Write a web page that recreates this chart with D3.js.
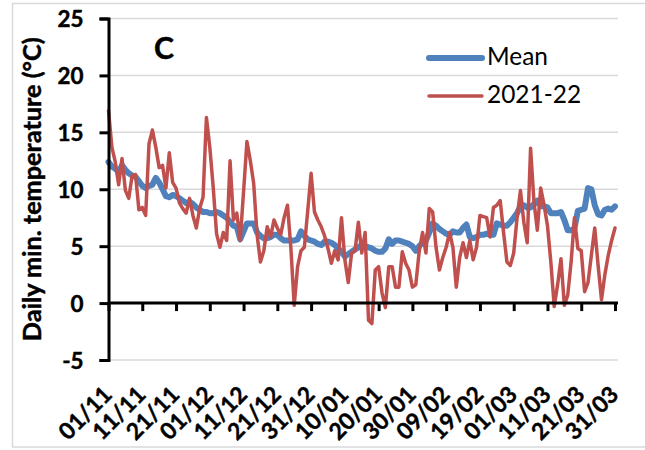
<!DOCTYPE html>
<html>
<head>
<meta charset="utf-8">
<script src="https://cdn.jsdelivr.net/npm/d3@7"></script>
<style>
  html, body { margin: 0; padding: 0; background: #fff; }
  svg { display: block; }
  text { font-family: Lato, "Liberation Sans", sans-serif; }
  .bold { font-weight: bold; stroke: #000; stroke-width: 0.45px; }
</style>
</head>
<body>
<svg id="chart" width="645" height="450"></svg>
<script>
// Day-of-season tick labels (every 10 days from 1 November)
const tickDays = [0, 10, 20, 30, 40, 50, 60, 70, 80, 90, 100, 110, 120, 130, 140, 150];
const tickLabels = ["01/11", "11/11", "21/11", "01/12", "11/12", "21/12", "31/12", "10/01",
                    "20/01", "30/01", "09/02", "19/02", "01/03", "11/03", "21/03", "31/03"];
const yTicks = [-5, 0, 5, 10, 15, 20, 25];
const seriesNames = ["Mean", "2021-22"];

// Long-term mean daily minimum temperature, 1 Nov – 31 Mar (°C)
const meanTemp = [
  12.4, 12.0, 11.8, 11.5, 12.1, 11.7, 11.4, 11.2, 11.1, 10.7,
  10.3, 10.1, 10.3, 10.4, 11.0, 10.6, 10.0, 9.4, 9.3, 9.5,
  9.4, 9.2, 9.0, 8.8, 8.9, 8.7, 8.4, 8.2, 8.0, 8.0,
  7.9, 7.9, 8.0, 7.9, 7.7, 7.5, 7.1, 6.8, 6.7, 5.6,
  6.3, 7.0, 7.0, 7.0, 6.2, 5.9, 5.7, 5.7, 5.8, 6.0,
  6.0, 5.7, 5.5, 5.5, 5.5, 5.5, 5.6, 6.3, 5.9, 5.6,
  5.5, 5.4, 5.2, 5.1, 5.4, 5.4, 5.3, 5.1, 4.8, 4.5,
  4.1, 4.3, 4.5, 4.7, 4.9, 5.1, 5.0, 4.9, 4.8, 4.6,
  4.5, 4.5, 4.8, 5.6, 5.2, 5.5, 5.5, 5.4, 5.3, 5.2,
  5.0, 4.6, 5.0, 5.3, 5.5, 6.2, 7.0, 6.8, 6.5, 6.3,
  6.1, 6.0, 6.3, 6.2, 6.2, 6.6, 6.9, 5.8, 5.7, 5.8,
  6.0, 6.0, 6.1, 6.0, 6.0, 7.0, 6.9, 6.8, 6.8, 7.1,
  7.5, 7.9, 8.5, 8.6, 8.4, 8.4, 8.7, 9.0, 8.5, 8.5,
  8.4, 7.9, 7.9, 7.9, 8.0, 7.3, 6.4, 6.4, 6.6, 8.1,
  8.2, 8.3, 10.1, 10.0, 8.6, 7.8, 7.7, 8.2, 8.3, 8.2,
  8.5
];

// Daily minimum temperature, season 2021-22 (°C)
const temp2122 = [
  16.9, 13.7, 12.4, 10.4, 12.7, 9.9, 9.2, 11.2, 11.3, 8.2,
  8.4, 7.7, 14.0, 15.2, 13.7, 11.9, 12.1, 10.1, 13.2, 10.6,
  10.1, 8.8, 8.3, 7.9, 9.2, 7.7, 6.6, 8.3, 9.3, 16.3,
  13.7, 10.2, 6.1, 4.9, 6.2, 5.5, 12.5, 7.3, 7.9, 5.5,
  9.8, 14.2, 12.5, 10.5, 6.0, 3.6, 4.6, 6.7, 5.8, 7.3,
  6.6, 6.0, 7.5, 8.6, 4.9, -0.2, 3.2, 4.6, 4.9, 8.1,
  11.4, 8.0, 7.3, 6.7, 5.9, 4.8, 3.5, 4.6, 3.8, 7.5,
  3.8, 1.8, 4.4, 4.6, 7.1, 4.4, 6.2, -1.5, -1.8, 2.9,
  3.2, 0.9, -0.4, 3.2, 3.2, 1.4, 1.4, 4.5, 3.5, 2.9,
  1.4, 1.6, 4.5, 6.2, 4.4, 8.3, 8.0, 4.9, 2.9, 4.0,
  4.9, 6.2, 4.9, 1.4, 4.0, 5.3, 4.0, 5.5, 3.8, 4.9,
  7.7, 7.6, 7.5, 5.8, 8.4, 8.6, 9.0, 6.2, 3.6, 3.3,
  4.4, 7.5, 9.9, 7.1, 5.3, 13.6, 8.9, 6.4, 10.1, 8.6,
  6.8, 3.6, -0.3, 1.6, 3.9, -0.2, 0.7, 3.6, 7.5, 4.8,
  4.6, 1.0, 1.8, 4.2, 6.6, 3.3, 0.3, 2.5, 4.2, 5.5,
  6.6
];

const colors = { mean: "#4F81BD", season: "#C0504D" };

const svg = d3.select("#chart");

// Font size that makes a sample string span the wanted width
function fitSize(sample, weight, target) {
  const t = svg.append("text")
    .style("font-size", "100px")
    .style("font-weight", weight)
    .text(sample);
  const w = t.node().getComputedTextLength();
  t.remove();
  return 100 * target / w;
}

// Chart frame
svg.append("rect")
  .attr("x", 12.5).attr("y", 3.5)
  .attr("width", 640).attr("height", 443.5)
  .attr("fill", "#fff")
  .attr("stroke", "#D9D9D9").attr("stroke-width", 1.5);

const plotLeft = 108.5, plotRight = 618, plotTop = 18.5, plotBottom = 360;
const x = d3.scaleLinear().domain([0, 150]).range([plotLeft, 615]);
const y = d3.scaleLinear().domain([-5, 25]).range([plotBottom, plotTop]);

// Horizontal gridlines
svg.append("g")
  .selectAll("line")
  .data(yTicks.filter(v => v !== 0))
  .join("line")
  .attr("x1", plotLeft).attr("x2", plotRight)
  .attr("y1", d => y(d)).attr("y2", d => y(d))
  .attr("stroke", "#D9D9D9").attr("stroke-width", 1.5);

// Series lines
const line = d3.line()
  .x((d, i) => x(i))
  .y(d => y(d));

svg.append("path")
  .datum(meanTemp)
  .attr("d", line)
  .attr("fill", "none")
  .attr("stroke", colors.mean)
  .attr("stroke-width", 6)
  .attr("stroke-linejoin", "round")
  .attr("stroke-linecap", "round");

svg.append("path")
  .datum(temp2122)
  .attr("d", line)
  .attr("fill", "none")
  .attr("stroke", colors.season)
  .attr("stroke-width", 3.5)
  .attr("stroke-linejoin", "round")
  .attr("stroke-linecap", "round");

// Y axis (plain hyphen for negative values)
const yTickSize = fitSize("25", "bold", 26);
const yAxis = svg.append("g")
  .attr("transform", `translate(${plotLeft},0)`)
  .call(d3.axisLeft(y).tickValues(yTicks).tickSize(9).tickPadding(16).tickFormat(d => String(d)));
yAxis.select(".domain").attr("stroke", "#000").attr("stroke-width", 3);
yAxis.selectAll(".tick line").attr("stroke", "#000").attr("stroke-width", 3);
yAxis.selectAll(".tick text")
  .attr("class", "bold")
  .attr("fill", "#000")
  .attr("dy", "0.36em")
  .style("font-size", yTickSize + "px");

// X axis drawn along zero
const xAxis = svg.append("g")
  .attr("transform", `translate(0,${y(0)})`)
  .call(d3.axisBottom(x).tickValues(tickDays).tickSize(8).tickSizeOuter(0).tickFormat(""));
xAxis.select(".domain")
  .attr("d", `M${plotLeft},0H${plotRight}`)
  .attr("stroke", "#000").attr("stroke-width", 3);
xAxis.selectAll(".tick line").attr("stroke", "#000").attr("stroke-width", 3);

// Date labels below the plot, rotated
const xLabelSize = fitSize("01/11", "bold", 64);
svg.append("g")
  .selectAll("text")
  .data(tickDays)
  .join("text")
  .attr("class", "bold")
  .attr("transform", d => `translate(${x(d) + 5},${plotBottom + 36}) rotate(-45)`)
  .attr("text-anchor", "end")
  .style("font-size", xLabelSize + "px")
  .attr("fill", "#000")
  .text((d, i) => tickLabels[i]);

// Y axis title
const yTitleText = "Daily min. temperature (°C)";
svg.append("text")
  .attr("class", "bold")
  .attr("transform", `translate(41,${(plotTop + plotBottom) / 2}) rotate(-90)`)
  .attr("text-anchor", "middle")
  .style("font-size", fitSize(yTitleText, "bold", 304) + "px")
  .attr("fill", "#000")
  .text(yTitleText);

// Panel letter
svg.append("text")
  .attr("class", "bold")
  .attr("x", 154).attr("y", 59)
  .style("font-size", fitSize("C", "bold", 20) + "px")
  .attr("fill", "#000")
  .text("C");

// Legend
const legendSize = fitSize(seriesNames[0], "normal", 61);
const legendItems = [
  { name: seriesNames[0], color: colors.mean, width: 6, y: 58 },
  { name: seriesNames[1], color: colors.season, width: 3.5, y: 96 }
];
const legend = svg.append("g");
legend.selectAll("line")
  .data(legendItems)
  .join("line")
  .attr("x1", 429).attr("x2", 482)
  .attr("y1", d => d.y).attr("y2", d => d.y)
  .attr("stroke", d => d.color)
  .attr("stroke-width", d => d.width)
  .attr("stroke-linecap", "round");
legend.selectAll("text")
  .data(legendItems)
  .join("text")
  .attr("x", 487).attr("y", d => d.y + 7)
  .style("font-size", legendSize + "px")
  .attr("fill", "#000")
  .text(d => d.name);
</script>
</body>
</html>
